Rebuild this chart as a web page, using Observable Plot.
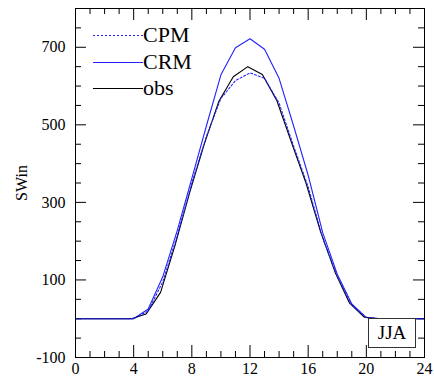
<!DOCTYPE html>
<html>
<head>
<meta charset="utf-8">
<script src="https://cdn.jsdelivr.net/npm/d3@7"></script>
<script src="https://cdn.jsdelivr.net/npm/@observablehq/plot@0.6"></script>
<style>
  body { margin: 0; background: white; }
  #wrap { position: relative; width: 434px; height: 382px; font-family: "Liberation Serif", "DejaVu Serif", "Noto Serif", Tinos, FreeSerif, "Nimbus Roman", serif; }
  #legend { position: absolute; left: 93px; top: 22px; }
  .item { position: relative; height: 26.5px; }
  .item svg { position: absolute; left: 0; top: 0; }
  .item span { position: absolute; left: 50px; top: 0px; font-size: 22px; line-height: 26px; }
  #season { position: absolute; left: 368px; top: 318px; width: 46px; height: 28px; border: 1px solid #333; background: white;
    font-size: 19px; line-height: 28px; text-align: center; box-sizing: content-box; }
</style>
</head>
<body>
<div id="wrap"></div>
<script>
const hours = [0,1,2,3,4,5,6,7,8,9,10,11,12,13,14,15,16,17,18,19,20,21,22,23,24];
const cpmValues = [0,0,0,0,0,20,95,215,350,470,568,614,634,620,556,445,340,208,110,35,3,0,0,0,0];
const crmValues = [0,0,0,0,0,25,108,228,362,497,629,699,722,695,620,497,370,222,115,38,3,0,0,0,0];
const obsHours = [0,1,2,3,3.85,4.85,5.85,6.85,7.85,8.85,9.85,10.85,11.85,12.85,13.85,14.85,15.85,16.85,17.85,18.85,19.85,20.85,22,23,24];
const obsValues = [0,0,0,0,0,12,68,190,325,450,560,624,650,630,562,455,350,225,120,40,4,0,0,0,0];

const xMajor = [0,4,8,12,16,20,24];
const xMinor = [1,2,3,5,6,7,9,10,11,13,14,15,17,18,19,21,22,23];
const yMajor = [-100,100,300,500,700];
const yMinor = [-50,0,50,150,200,250,350,400,450,550,600,650,750];

const blue = "#2222ff";
const H = 349, W = 349;
const serif = '"Liberation Serif", "DejaVu Serif", "Noto Serif", Tinos, FreeSerif, "Nimbus Roman", serif';

const chart = Plot.plot({
  width: 434, height: 382,
  marginLeft: 75, marginRight: 10, marginTop: 8, marginBottom: 25,
  style: { fontFamily: serif, fontSize: "16px", background: "white", color: "black" },
  x: { domain: [0, 24] },
  y: { domain: [-100, 800] },
  marks: [
    Plot.axisX({ ticks: xMajor, tickSize: 0, tickPadding: 5, tickFormat: d => String(d), label: null }),
    Plot.axisY({ ticks: yMajor, tickSize: 0, tickPadding: 10, tickFormat: d => String(d), label: "SWin", labelAnchor: "center", labelArrow: "none", labelOffset: 60 }),
    Plot.tickX(xMajor, { x: d => d, insetTop: H - 12, stroke: "black" }),
    Plot.tickX(xMinor, { x: d => d, insetTop: H - 6, stroke: "black" }),
    Plot.tickX(xMajor, { x: d => d, insetBottom: H - 12, stroke: "black" }),
    Plot.tickX(xMinor, { x: d => d, insetBottom: H - 6, stroke: "black" }),
    Plot.tickY(yMajor, { y: d => d, insetRight: W - 11, stroke: "black" }),
    Plot.tickY(yMinor, { y: d => d, insetRight: W - 6, stroke: "black" }),
    Plot.tickY(yMajor, { y: d => d, insetLeft: W - 11, stroke: "black" }),
    Plot.tickY(yMinor, { y: d => d, insetLeft: W - 6, stroke: "black" }),
    Plot.line(hours.map((h, i) => ({ h, v: crmValues[i] })), { x: "h", y: "v", stroke: blue, strokeWidth: 1.1 }),
    Plot.line(obsHours.map((h, i) => ({ h, v: obsValues[i] })), { x: "h", y: "v", stroke: "black", strokeWidth: 1.1 }),
    Plot.line(hours.map((h, i) => ({ h, v: cpmValues[i] })), { x: "h", y: "v", stroke: blue, strokeWidth: 1.1, strokeDasharray: "2,2" }),
    Plot.frame({ stroke: "black" })
  ]
});

const wrap = document.getElementById("wrap");
wrap.appendChild(chart);

const legendItems = [
  { name: "CPM", color: blue, dash: "2,2" },
  { name: "CRM", color: blue, dash: null },
  { name: "obs", color: "black", dash: null }
];
const legend = document.createElement("div");
legend.id = "legend";
for (const it of legendItems) {
  const row = document.createElement("div");
  row.className = "item";
  row.innerHTML = `<svg width="50" height="26"><line x1="0" x2="50" y1="13.5" y2="13.5" stroke="${it.color}" stroke-width="1.1" ${it.dash ? `stroke-dasharray="${it.dash}"` : ""}/></svg><span>${it.name}</span>`;
  legend.appendChild(row);
}
wrap.appendChild(legend);

const season = document.createElement("div");
season.id = "season";
season.textContent = "JJA";
wrap.appendChild(season);
</script>
</body>
</html>
